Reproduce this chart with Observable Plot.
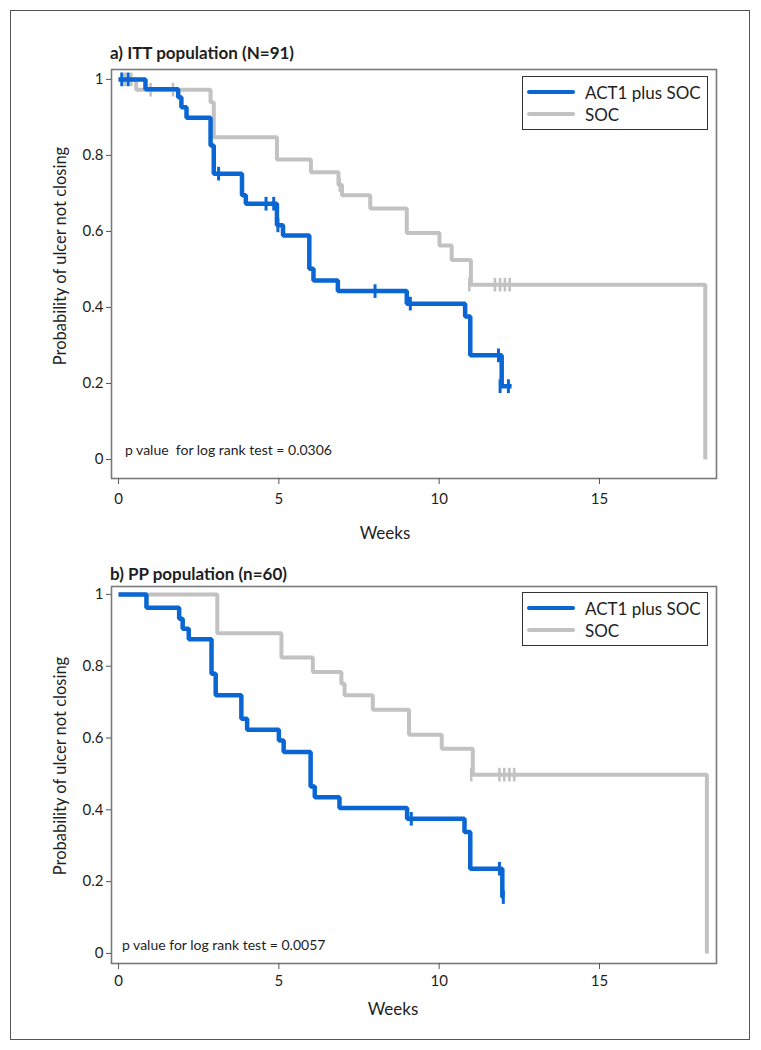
<!DOCTYPE html>
<html><head><meta charset="utf-8">
<script src="https://cdn.jsdelivr.net/npm/d3@7"></script>
<script src="https://cdn.jsdelivr.net/npm/@observablehq/plot@0.6"></script>
<style>
body{margin:0;background:#fff;font-family:Lato,"Open Sans",sans-serif;}
#page{position:relative;width:761px;height:1050px;overflow:hidden;}
.border{position:absolute;left:10px;top:10px;width:740px;height:1030px;border:1px solid #555;box-sizing:border-box;}
.abs{position:absolute;white-space:pre;color:#1e1e1e;line-height:1;}
.title{font-weight:bold;font-size:17px;transform:translateY(-50%);}
.ylab{font-size:16.5px;transform:translate(-50%,-50%) rotate(-90deg);}
.xlab{font-size:17px;transform:translate(-50%,-50%);}
.pval{font-size:14px;transform:translateY(-50%);}
.legend{position:absolute;border:1.3px solid #333;box-sizing:border-box;background:#fff;}
.lgline{position:absolute;height:4px;border-radius:2px;}
.lgtext{position:absolute;font-size:17px;white-space:nowrap;color:#1e1e1e;transform:translateY(-50%);line-height:1;}
.plot{position:absolute;left:0;}
</style>
</head><body>
<div id="page">
  <div class="border"></div>
  <div id="plotA" class="plot" style="top:60px"></div>
  <div id="plotB" class="plot" style="top:578px"></div>
</div>
<script>
// ---------- data ----------
const groups = ["ACT1 plus SOC", "SOC"];
const groupColors = ["#0a66d2", "#c2c2c2"];
const xTicks = [0, 5, 10, 15];
const yTicks = [0, 0.2, 0.4, 0.6, 0.8, 1];

// a) ITT population
const ittActWeeks = [0, 0.84, 1.86, 1.96, 2.12, 2.87, 2.97, 3.85, 3.97, 4.94, 5.13, 5.95, 6.08, 6.84, 8.99, 10.81, 10.97, 11.95, 12.26];
const ittActSurv  = [1, 0.974, 0.953, 0.927, 0.899, 0.826, 0.752, 0.695, 0.673, 0.616, 0.589, 0.502, 0.471, 0.443, 0.41, 0.376, 0.274, 0.193, 0.193];
const ittActCensWeeks = [0.1, 0.3, 3.12, 4.6, 4.84, 4.97, 8.0, 9.1, 11.85, 11.9, 12.16];
const ittActCensSurv  = [1, 1, 0.752, 0.673, 0.673, 0.616, 0.443, 0.41, 0.274, 0.193, 0.193];
const ittSocWeeks = [0, 0.55, 2.87, 2.97, 4.94, 6.0, 6.86, 6.97, 7.85, 8.99, 10.01, 10.39, 10.99, 18.3];
const ittSocSurv  = [1, 0.973, 0.94, 0.848, 0.789, 0.756, 0.722, 0.695, 0.66, 0.596, 0.563, 0.525, 0.46, 0];
const ittSocCensWeeks = [0.2, 0.4, 1.0, 1.7, 6.9, 10.94, 11.74, 11.9, 12.05, 12.2];
const ittSocCensSurv  = [1, 1, 0.973, 0.973, 0.722, 0.46, 0.46, 0.46, 0.46, 0.46];

// b) PP population
const ppActWeeks = [0, 0.87, 1.89, 2.0, 2.19, 2.9, 3.03, 3.83, 4.01, 5.0, 5.15, 5.99, 6.12, 6.89, 9.0, 10.79, 10.97, 11.97, 12.0];
const ppActSurv  = [1, 0.963, 0.932, 0.904, 0.875, 0.779, 0.719, 0.654, 0.623, 0.593, 0.561, 0.465, 0.435, 0.405, 0.375, 0.338, 0.236, 0.157, 0.157];
const ppActCensWeeks = [9.13, 11.88, 12.0];
const ppActCensSurv  = [0.375, 0.236, 0.157];
const ppSocWeeks = [0, 3.08, 5.08, 6.06, 6.95, 7.05, 7.93, 9.06, 10.08, 11.05, 18.35];
const ppSocSurv  = [1, 0.892, 0.824, 0.784, 0.751, 0.719, 0.679, 0.609, 0.57, 0.498, 0];
const ppSocCensWeeks = [11.0, 11.88, 12.03, 12.19, 12.34];
const ppSocCensSurv  = [0.498, 0.498, 0.498, 0.498, 0.498];

const titles = ["a) ITT population (N=91)", "b) PP population (n=60)"];
const pTexts = ["p value  for log rank test = 0.0306", "p value for log rank test = 0.0057"];
const yLabel = "Probability of ulcer not closing";
const xLabel = "Weeks";

// ---------- build ----------
const zip = (w, s, g) => w.map((t, i) => ({t, s: s[i], g}));

function panel(el, curves, cens, opts) {
  const h = opts.censH;
  const chart = Plot.plot({
    width: 740, height: opts.height,
    marginLeft: 111, marginRight: 24, marginTop: opts.mt, marginBottom: opts.mb,
    x: {domain: [-0.22, 18.65]},
    y: {domain: opts.ydom},
    color: {domain: groups, range: groupColors},
    style: {fontFamily: "Lato, 'Open Sans', sans-serif", fontSize: "15px", color: "#1e1e1e", background: "transparent"},
    marks: [
      Plot.frame({stroke: "#7a7a7a", strokeWidth: 1.6}),
      Plot.axisY({ticks: yTicks, tickFormat: d => String(d), tickSize: 5, tickPadding: 3, label: null, stroke: "#555"}),
      Plot.axisX({ticks: xTicks, tickSize: 6, tickPadding: opts.xpad, label: null, stroke: "#555"}),
      Plot.line(curves.filter(d => d.g === "SOC"), {x: "t", y: "s", stroke: "g", curve: "step-after", strokeWidth: 4, strokeLinejoin: "miter", strokeLinecap: "butt"}),
      Plot.link(cens.filter(d => d.g === "SOC"), {x1: "t", x2: "t", y1: d => d.s - h, y2: d => d.s + h, stroke: "g", strokeWidth: 2.6}),
      Plot.line(curves.filter(d => d.g !== "SOC"), {x: "t", y: "s", stroke: "g", curve: "step-after", strokeWidth: 4.5, strokeLinejoin: "miter", strokeLinecap: "butt"}),
      Plot.link(cens.filter(d => d.g !== "SOC"), {x1: "t", x2: "t", y1: d => d.s - h, y2: d => d.s + h, stroke: "g", strokeWidth: 3})
    ]
  });
  document.getElementById(el).appendChild(chart);
}

panel("plotA",
  [...zip(ittActWeeks, ittActSurv, groups[0]), ...zip(ittSocWeeks, ittSocSurv, groups[1])],
  [...zip(ittActCensWeeks, ittActCensSurv, groups[0]), ...zip(ittSocCensWeeks, ittSocCensSurv, groups[1])],
  {height: 480, mt: 9, mb: 62, ydom: [-0.05, 1.026], censH: 0.018, xpad: 9});
panel("plotB",
  [...zip(ppActWeeks, ppActSurv, groups[0]), ...zip(ppSocWeeks, ppSocSurv, groups[1])],
  [...zip(ppActCensWeeks, ppActCensSurv, groups[0]), ...zip(ppSocCensWeeks, ppSocCensSurv, groups[1])],
  {height: 460, mt: 8, mb: 75, ydom: [-0.028, 1.022], censH: 0.019, xpad: 6});

// ---------- text & legends ----------
const page = document.getElementById("page");
function addText(cls, txt, left, top) {
  const d = document.createElement("div");
  d.className = "abs " + cls; d.textContent = txt;
  d.style.left = left + "px"; d.style.top = top + "px";
  page.appendChild(d);
}
addText("title", titles[0], 110, 52);
addText("title", titles[1], 110, 573);
addText("ylab", yLabel, 60, 256);
addText("ylab", yLabel, 60, 766);
addText("xlab", xLabel, 385, 532);
addText("xlab", xLabel, 393, 1008);
addText("pval", pTexts[0], 125, 450);
addText("pval", pTexts[1], 122, 945);

function legend(top) {
  const box = document.createElement("div");
  box.className = "legend";
  box.style.left = "522px"; box.style.top = top + "px";
  box.style.width = "186px"; box.style.height = "54px";
  page.appendChild(box);
  groups.forEach((g, i) => {
    const y = top + 16 + i * 22;
    const l = document.createElement("div");
    l.className = "lgline"; l.style.background = groupColors[i];
    l.style.left = "527px"; l.style.width = "48px"; l.style.top = (y - 2) + "px";
    page.appendChild(l);
    const t = document.createElement("div");
    t.className = "lgtext"; t.textContent = g;
    t.style.left = "585px"; t.style.top = y + "px";
    page.appendChild(t);
  });
}
legend(76);
legend(592);
</script>
</body></html>
